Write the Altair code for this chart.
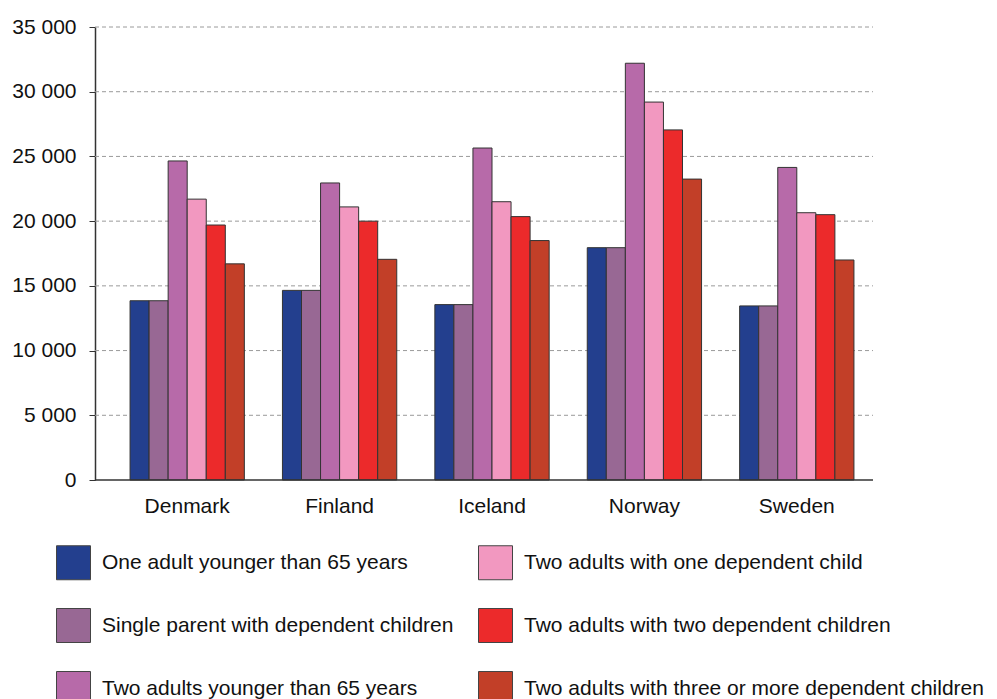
import altair as alt
import pandas as pd

# Nordic countries and household types
countries = ["Denmark", "Finland", "Iceland", "Norway", "Sweden"]
households = [
    "One adult younger than 65 years",
    "Single parent with dependent children",
    "Two adults younger than 65 years",
    "Two adults with one dependent child",
    "Two adults with two dependent children",
    "Two adults with three or more dependent children",
]
colors = ["#233F8E", "#986894", "#B76AA9", "#F298C0", "#EC2A2B", "#C23F28"]

# Values per household type, one entry per country (same order as `countries`)
one_adult = [13850, 14650, 13550, 17950, 13450]
single_parent = [13850, 14650, 13550, 17950, 13450]
two_adults = [24650, 22950, 25650, 32200, 24150]
two_adults_one_child = [21700, 21100, 21500, 29200, 20650]
two_adults_two_children = [19700, 20000, 20350, 27050, 20500]
two_adults_three_children = [16700, 17050, 18500, 23250, 17000]

# y-axis tick values
y_ticks = [0, 5000, 10000, 15000, 20000, 25000, 30000, 35000]

series = [
    one_adult,
    single_parent,
    two_adults,
    two_adults_one_child,
    two_adults_two_children,
    two_adults_three_children,
]

rows = []
for name, vals in zip(households, series):
    for c, v in zip(countries, vals):
        rows.append({"country": c, "household": name, "value": v})
df = pd.DataFrame(rows)

grid_df = pd.DataFrame({"value": y_ticks[1:]})
base_df = pd.DataFrame({"value": y_ticks[:1]})

FONT = "Liberation Sans"
PLOT_W = 778
PLOT_H = 453

y_scale = alt.Scale(domain=[0, 35000], nice=False)
y_axis = alt.Axis(
    title=None,
    values=y_ticks,
    labelExpr="replace(format(datum.value, ','), ',', ' ')",
    labelFontSize=21,
    labelFont=FONT,
    labelColor="#111111",
    labelPadding=13,
    tickSize=6,
    tickColor="#333333",
    domainColor="#333333",
    domainWidth=1.5,
    grid=False,
)

# dashed horizontal gridlines across the full plot width
grid = (
    alt.Chart(grid_df)
    .mark_rule(color="#9a9a9a", strokeDash=[4, 3], strokeWidth=1)
    .encode(
        y=alt.Y("value:Q", scale=y_scale, axis=y_axis),
        x=alt.value(0),
        x2=alt.value(PLOT_W),
    )
)

# solid baseline at zero
baseline = (
    alt.Chart(base_df)
    .mark_rule(color="#333333", strokeWidth=1.5)
    .encode(
        y=alt.Y("value:Q", scale=y_scale, axis=y_axis),
        x=alt.value(0),
        x2=alt.value(PLOT_W),
    )
)

bars = (
    alt.Chart(df)
    .mark_bar(stroke="#333333", strokeWidth=1)
    .encode(
        x=alt.X(
            "country:N",
            sort=countries,
            scale=alt.Scale(range=[16, PLOT_W], paddingInner=0.25, paddingOuter=0.125),
            axis=alt.Axis(
                title=None,
                labelAngle=0,
                ticks=False,
                domain=False,
                labelPadding=15,
                labelFontSize=21,
                labelFont=FONT,
                labelColor="#111111",
            ),
        ),
        xOffset=alt.XOffset(
            "household:N",
            sort=households,
            scale=alt.Scale(paddingInner=0, paddingOuter=0),
        ),
        y=alt.Y("value:Q", scale=y_scale, axis=y_axis),
        color=alt.Color(
            "household:N",
            scale=alt.Scale(domain=households, range=colors),
            legend=alt.Legend(
                title=None,
                orient="none",
                legendX=-39,
                legendY=518,
                columns=2,
                columnPadding=22,
                rowPadding=24,
                symbolType="square",
                symbolSize=1156,
                symbolStrokeColor="#444444",
                symbolStrokeWidth=1,
                symbolOpacity=1,
                labelFontSize=21,
                labelFont=FONT,
                labelColor="#111111",
                labelOffset=11,
                labelLimit=600,
                padding=0,
            ),
        ),
    )
)

chart = (
    alt.layer(grid, bars, baseline)
    .properties(
        width=PLOT_W,
        height=PLOT_H,
        autosize="none",
        padding={"left": 95, "top": 27, "right": 124, "bottom": 219},
        background="white",
    )
    .configure_view(stroke=None)
)

chart.save("out.html", embed_options={"renderer": "svg", "actions": False})
